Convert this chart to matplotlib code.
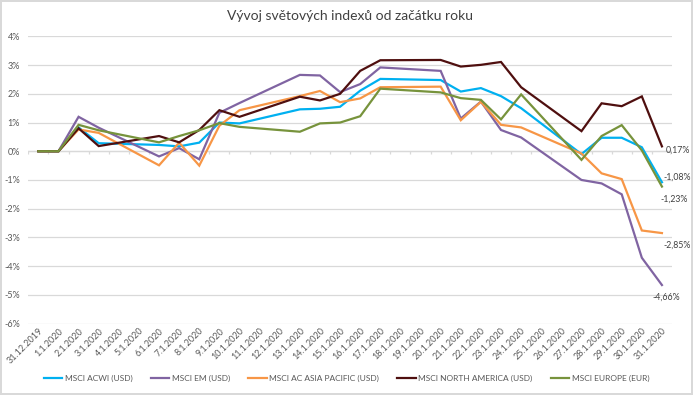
import numpy as np
import matplotlib
matplotlib.use('Agg')
import matplotlib.pyplot as plt
from matplotlib.ticker import FuncFormatter

plt.rcParams['font.family'] = ['Lato', 'DejaVu Sans']

DATES = ['31.12.2019'] + ['%d.1.2020' % d for d in range(1, 32)]
N = None

# daily change since start of year, %, weekends empty
ACWI = [0, 0, 0.83, 0.28, N, N, 0.22, 0.17, 0.30, 1.00, 0.97, N, N, 1.46, 1.48, 1.55,
        2.11, 2.52, N, N, 2.48, 2.08, 2.20, 1.92, 1.50, N, N, -0.10, 0.47, 0.47, 0.14, -1.08]
EM = [0, 0, 1.20, 0.82, N, N, -0.18, 0.11, -0.28, 1.34, 1.68, N, N, 2.66, 2.64, 2.06,
      2.34, 2.92, N, N, 2.80, 1.14, 1.73, 0.74, 0.48, N, N, -1.00, -1.12, -1.50, -3.71, -4.66]
ASIA = [0, 0, 0.76, 0.64, N, N, -0.49, 0.30, -0.50, 0.89, 1.43, N, N, 1.92, 2.10, 1.71,
        1.84, 2.23, N, N, 2.25, 1.08, 1.72, 0.92, 0.83, N, N, -0.08, -0.77, -0.97, -2.76, -2.85]
NAMERICA = [0, 0, 0.80, 0.18, N, N, 0.53, 0.31, 0.74, 1.43, 1.20, N, N, 1.90, 1.77, 2.00,
            2.80, 3.17, N, N, 3.18, 2.95, 3.01, 3.11, 2.23, N, N, 0.70, 1.67, 1.57, 1.91, 0.17]
EUROPE = [0, 0, 0.92, 0.73, N, N, 0.31, 0.53, 0.73, 0.98, 0.85, N, N, 0.68, 0.97, 1.00,
          1.22, 2.18, N, N, 2.05, 1.85, 1.79, 1.11, 1.98, N, N, -0.30, 0.53, 0.91, 0.03, -1.23]

SERIES = [
    ('MSCI ACWI (USD)', ACWI, '#00B0F0'),
    ('MSCI EM (USD)', EM, '#8064A2'),
    ('MSCI AC ASIA PACIFIC (USD)', ASIA, '#F79646'),
    ('MSCI NORTH AMERICA (USD)', NAMERICA, '#4F0F0F'),
    ('MSCI EUROPE (EUR)', EUROPE, '#77933C'),
]

# offsets of end labels (points)
END_OFFSETS = {'MSCI ACWI (USD)': (1, 4), 'MSCI EM (USD)': (-7, -9),
               'MSCI AC ASIA PACIFIC (USD)': (1, -9), 'MSCI NORTH AMERICA (USD)': (3, -3),
               'MSCI EUROPE (EUR)': (-1, -9)}

fig = plt.figure(figsize=(6.93, 3.95), dpi=100)
fig.patch.set_edgecolor('#D9D9D9')
fig.patch.set_linewidth(1.5)
ax = fig.add_axes([0.0408, 0.181, 0.9289, 0.7268])

x = np.arange(len(DATES))
for name, vals, color in SERIES:
    v = np.array([np.nan if a is None else a for a in vals], dtype=float)
    m = ~np.isnan(v)
    ax.plot(x[m], v[m], color=color, lw=1.6, label=name, solid_joinstyle='miter')
    dx, dy = END_OFFSETS[name]
    ax.annotate(('%.2f%%' % v[-1]).replace('.', ','), (x[-1], v[-1]),
                xytext=(dx, dy), textcoords='offset points', fontsize=6.3,
                color='#404040', ha='left', va='center')

ax.set_xlim(-0.5, len(DATES) - 0.5)
ax.set_ylim(-6, 4)
ax.set_yticks(range(-6, 5))
ax.yaxis.set_major_formatter(FuncFormatter(lambda v, p: '%d%%' % v))
ax.grid(axis='y', color='#D9D9D9', lw=0.9)
ax.set_axisbelow(True)
for s in ax.spines.values():
    s.set_visible(False)
ax.axhline(0, color='#D9D9D9', lw=0.9, zorder=0.5)
ax.vlines(np.arange(-0.5, len(DATES)), -0.1, 0, color='#D9D9D9', lw=0.9, zorder=0.5)

ax.set_xticks(x)
ax.set_xticklabels(DATES, rotation=45, ha='right', va='top', rotation_mode='anchor')
ax.tick_params(axis='both', length=0, labelsize=6.5, labelcolor='#595959')
ax.tick_params(axis='x', pad=2)
ax.tick_params(axis='y', pad=6)

ax.set_title('Vývoj světových indexů od začátku roku', fontsize=10, color='#404040', pad=12)

fig.legend(loc='center', bbox_to_anchor=(0.5, 1 - 378 / 395), ncol=5, frameon=False,
           fontsize=6, handlelength=2.2, columnspacing=2.2, handletextpad=0.3,
           labelcolor='#595959')

fig.savefig('out.png', dpi=100)
